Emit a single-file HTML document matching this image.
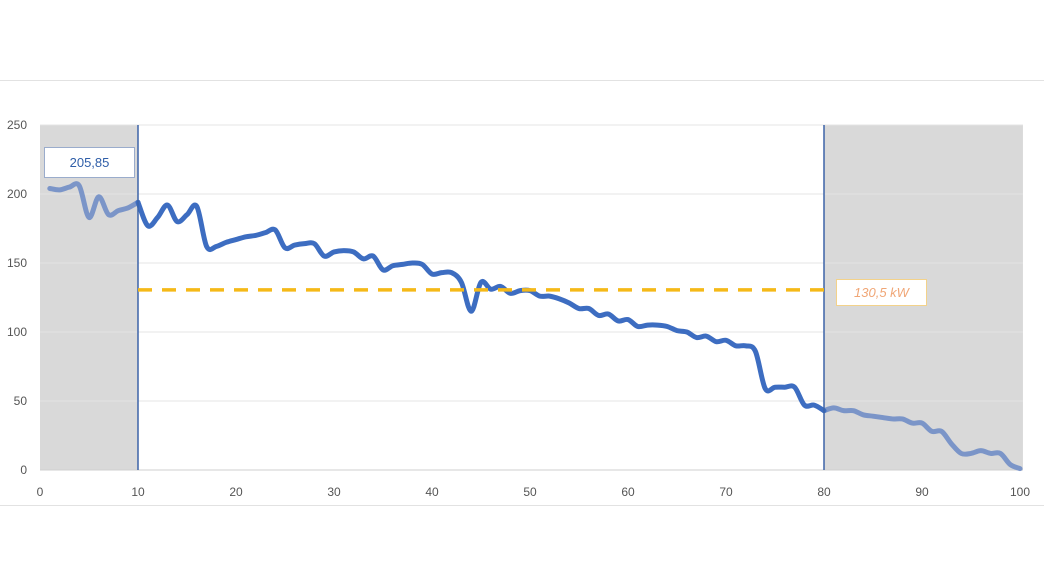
<!DOCTYPE html>
<html><head><meta charset="utf-8"><style>
html,body{margin:0;padding:0;background:#fff;width:1044px;height:587px;overflow:hidden;font-family:"Liberation Sans",sans-serif}
</style></head><body>
<svg id="chart" width="1044" height="587" xmlns="http://www.w3.org/2000/svg">
<line x1="0" y1="80.5" x2="1044" y2="80.5" stroke="#e2e2e2"/>
<line x1="0" y1="505.5" x2="1044" y2="505.5" stroke="#e2e2e2"/>
<g id="bg"></g><g id="grid"></g><g id="axes"></g><g id="series"></g><g id="ann"></g>
</svg>
<script>
const xTicks=[0,10,20,30,40,50,60,70,80,90,100];
const yTicks=[0,50,100,150,200,250];
const xs=[];for(let i=1;i<=100;i++)xs.push(i);
const power=[204,203,205,206,183,198,185,188,190,194,177,183,192,180,185,191,162,162,165,167,169,170,172,174,161,163,164,164,155,158,159,158,153,155,145,148,149,150,149,142,143,143,136,115,136,131,133,128,130,130,126,126,124,121,117,117,112,113,108,109,104,105,105,104,101,100,96,97,93,94,90,90,86,59,60,60,60,47,47,43,45,43,43,40,39,38,37,37,34,34,28,28,19,12,12,14,12,12,4,1];
const windowStart=10, windowEnd=80;
const avgValue=130.5;
const avgLabel="130,5 kW";
const peakLabel="205,85";
const NS="http://www.w3.org/2000/svg";
const X=v=>40+v*9.8, Y=v=>470-v*1.38;
function mk(tag,attrs,parent){const e=document.createElementNS(NS,tag);for(const k in attrs)e.setAttribute(k,attrs[k]);document.getElementById(parent).appendChild(e);return e;}
// shaded regions
let r=mk('rect',{x:X(0),y:Y(250),width:X(windowStart)-X(0),height:Y(0)-Y(250),fill:'#d9d9d9'},'bg');


r=mk('rect',{x:X(windowEnd),y:Y(250),width:X(100.3)-X(windowEnd),height:Y(0)-Y(250),fill:'#d9d9d9'},'bg');


yTicks.forEach(t=>{
  const l=mk('line',{x1:X(0),x2:X(100.3),y1:Y(t),y2:Y(t),stroke:t===0?'#cfcfcf':'#e4e4e4','stroke-width':1},'grid');
  
  
  const tx=mk('text',{x:27,y:Y(t)+4,'text-anchor':'end','font-size':12,fill:'#555'},'axes');tx.textContent=t;
  
  
});
xTicks.forEach(t=>{
  const tx=mk('text',{x:X(t),y:496,'text-anchor':'middle','font-size':12,fill:'#555'},'axes');tx.textContent=t;
  
  
});
function smooth(pts){let d='M'+pts[0][0]+','+pts[0][1];
  for(let i=0;i<pts.length-1;i++){const p0=pts[Math.max(0,i-1)],p1=pts[i],p2=pts[i+1],p3=pts[Math.min(pts.length-1,i+2)];
    d+=' C'+(p1[0]+(p2[0]-p0[0])/6)+','+(p1[1]+(p2[1]-p0[1])/6)+' '+(p2[0]-(p3[0]-p1[0])/6)+','+(p2[1]-(p3[1]-p1[1])/6)+' '+p2[0]+','+p2[1];}
  return d;}
const seg=(a,b)=>xs.map((x,i)=>[X(x),Y(power[i])]).filter((p,i)=>xs[i]>=a&&xs[i]<=b);
let p=mk('path',{d:smooth(seg(0,windowStart)),fill:'none',stroke:'#7b95c8','stroke-width':5,'stroke-linejoin':'round','stroke-linecap':'round'},'series');


p=mk('path',{d:smooth(seg(windowEnd,100)),fill:'none',stroke:'#7b95c8','stroke-width':5,'stroke-linejoin':'round','stroke-linecap':'round'},'series');


p=mk('path',{d:smooth(seg(windowStart,windowEnd)),fill:'none',stroke:'#3d6dc1','stroke-width':5,'stroke-linejoin':'round','stroke-linecap':'round'},'series');


let l=mk('line',{x1:X(windowStart),x2:X(windowStart),y1:Y(250),y2:Y(0),stroke:'#3d64a8','stroke-width':1.5},'ann');


l=mk('line',{x1:X(windowEnd),x2:X(windowEnd),y1:Y(250),y2:Y(0),stroke:'#3d64a8','stroke-width':1.5},'ann');


l=mk('line',{x1:X(windowStart),x2:X(windowEnd),y1:Y(avgValue),y2:Y(avgValue),stroke:'#f5b918','stroke-width':3.5,'stroke-dasharray':'14 10'},'ann');


let b=mk('rect',{x:44.5,y:147.5,width:90,height:30,fill:'#fff',stroke:'#9aaccc'},'ann');


let t=mk('text',{x:89.5,y:167,'text-anchor':'middle','font-size':13,fill:'#2f5ea8'},'ann');t.textContent=peakLabel;


b=mk('rect',{x:836.5,y:279.5,width:90,height:26,fill:'#fff',stroke:'#f3d28a'},'ann');


t=mk('text',{x:881.5,y:297,'text-anchor':'middle','font-size':13,'font-style':'italic',fill:'#f0a676'},'ann');t.textContent=avgLabel;


</script>
</body></html>
